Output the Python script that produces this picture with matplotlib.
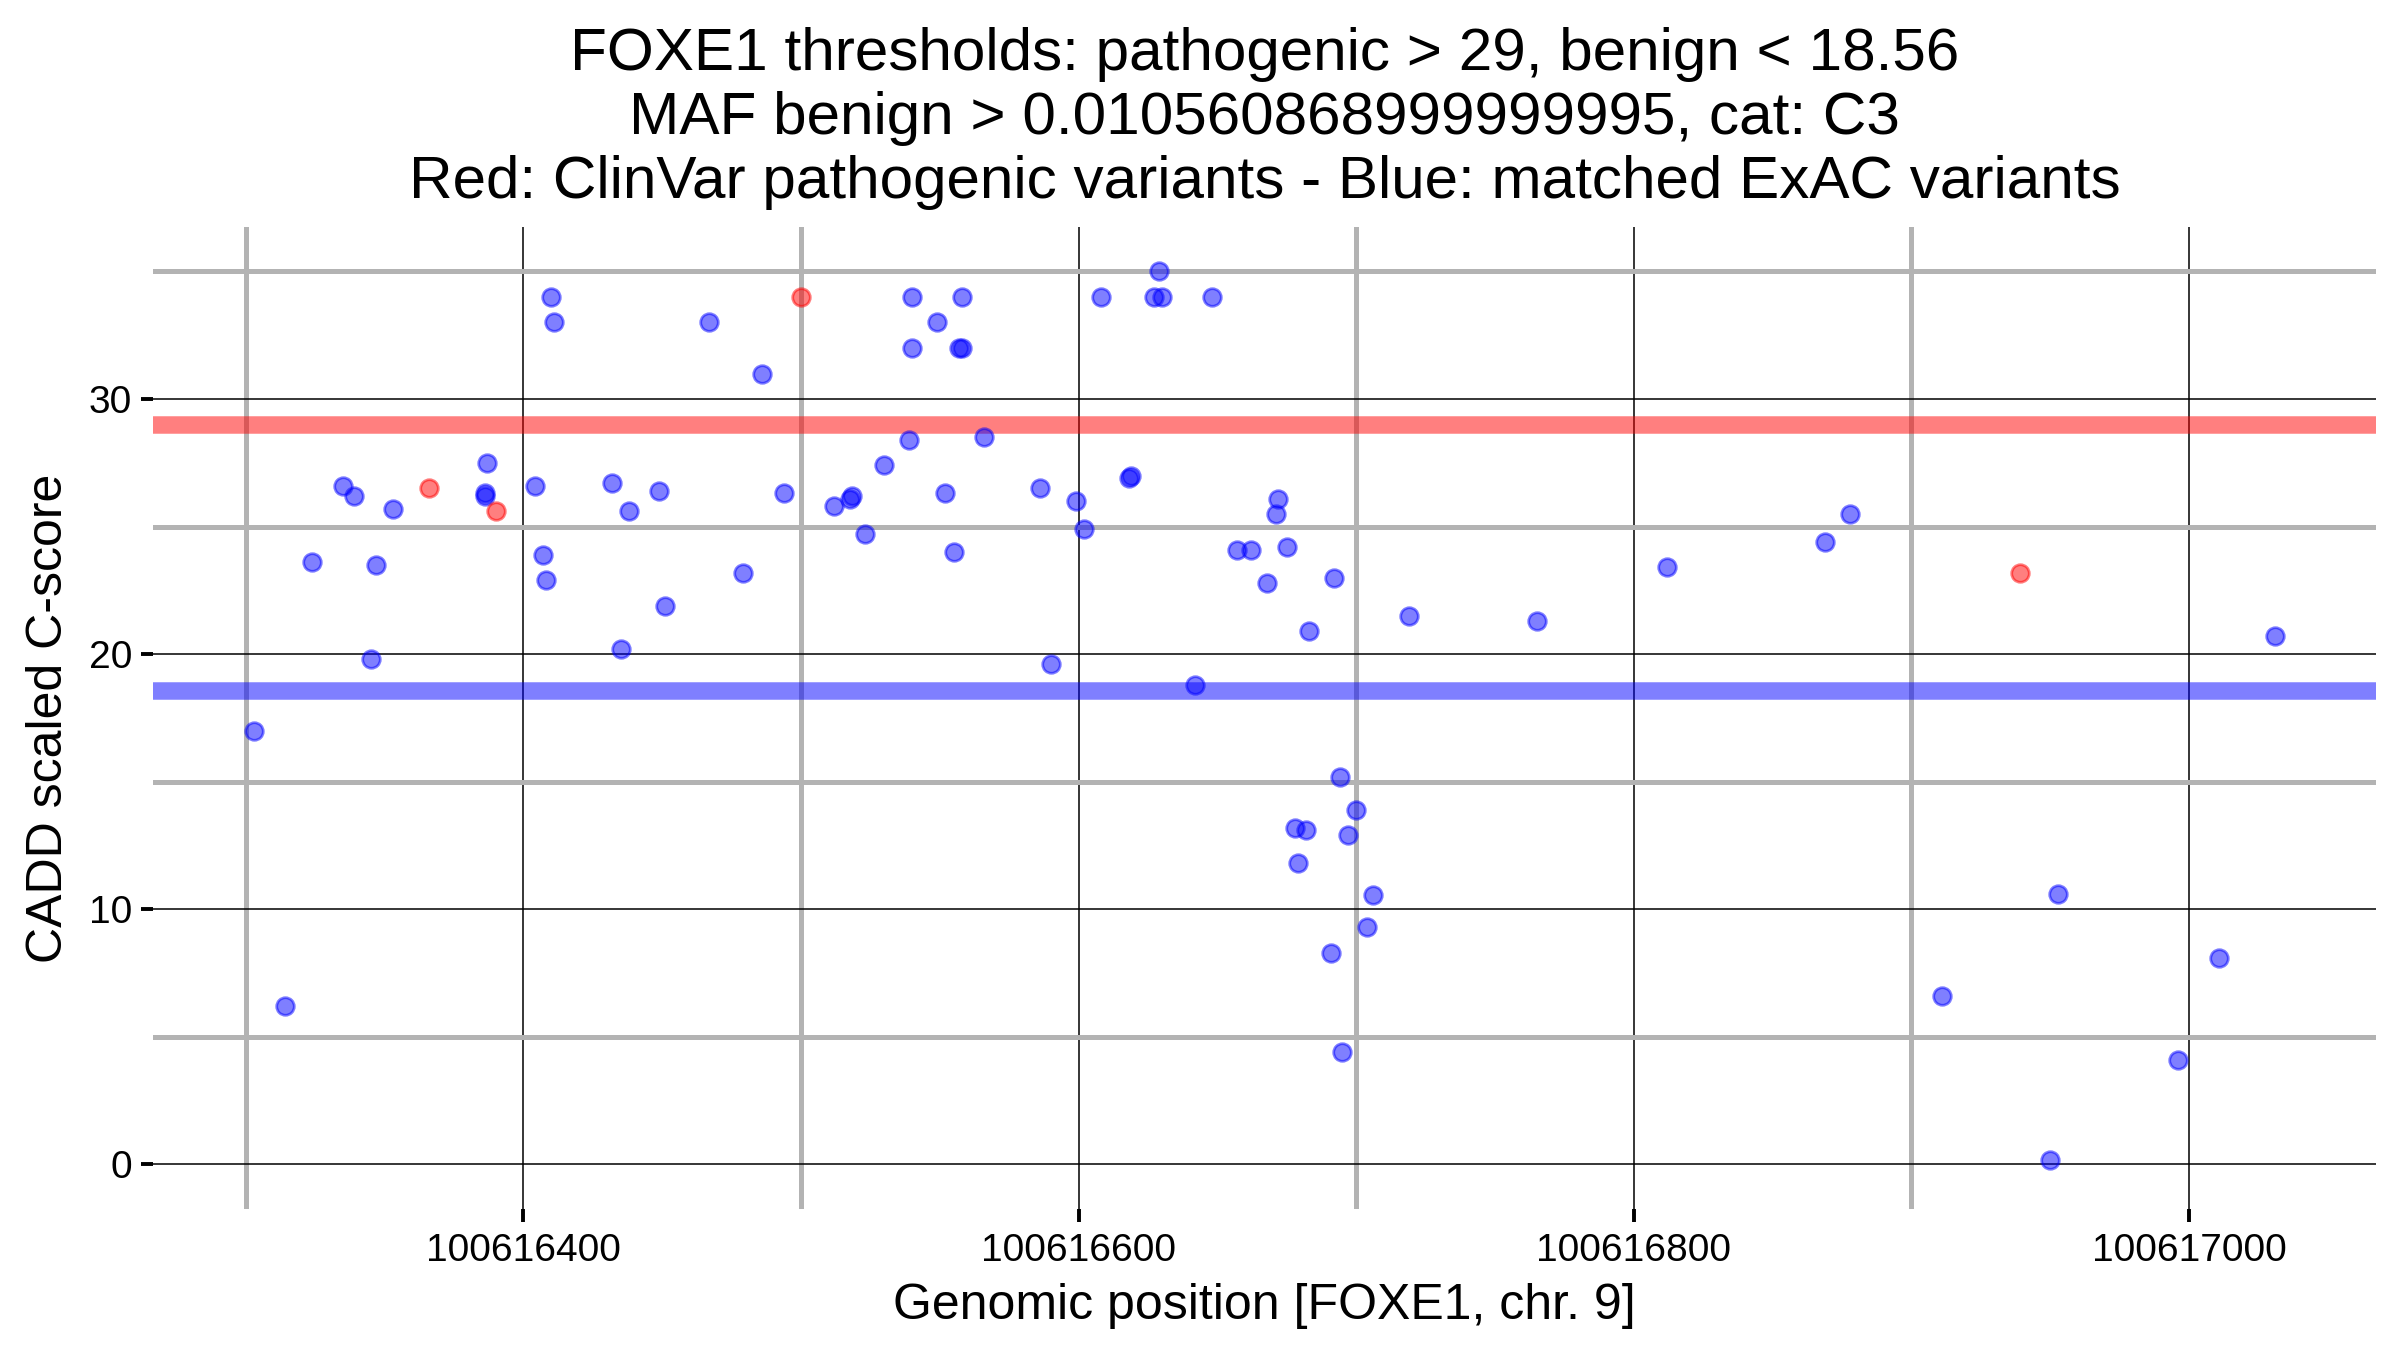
import matplotlib
matplotlib.use("Agg")
import matplotlib.pyplot as plt
from matplotlib.ticker import MultipleLocator, FixedLocator
import numpy as np

plt.rcParams['font.family'] = ['Liberation Sans', 'DejaVu Sans']

# ExAC (blue) variants: position offset from 100616000, CADD score
blue_pos = [303, 314, 324, 335, 339, 345, 347, 353, 387, 386, 386, 404, 407, 408,
            410, 411, 432, 435, 438, 449, 451, 467, 479, 486, 494, 512, 517.5, 518.5,
            523, 530, 539, 540, 540, 549, 552, 555, 557, 558, 558, 566, 586, 590,
            599, 602, 608, 618, 619, 627, 629, 630, 642, 648, 657, 662, 668, 671,
            672, 675, 678, 679, 682, 683, 691, 692, 694, 695, 697, 700, 704, 706,
            719, 765, 812, 869, 878, 911, 950, 953, 996, 1011, 1031]
blue_score = [17.0, 6.2, 23.6, 26.6, 26.2, 19.8, 23.5, 25.7, 27.5, 26.3, 26.2, 26.6, 23.9, 22.9,
              34.0, 33.0, 26.7, 20.2, 25.6, 26.4, 21.9, 33.0, 23.2, 31.0, 26.3, 25.8, 26.1, 26.2,
              24.7, 27.4, 28.4, 34.0, 32.0, 33.0, 26.3, 24.0, 32.0, 32.0, 34.0, 28.5, 26.5, 19.6,
              26.0, 24.9, 34.0, 26.9, 27.0, 34.0, 35.0, 34.0, 18.8, 34.0, 24.1, 24.1, 22.8, 25.5,
              26.1, 24.2, 13.2, 11.8, 13.1, 20.9, 8.3, 23.0, 15.2, 4.4, 12.9, 13.9, 9.3, 10.55,
              21.5, 21.3, 23.4, 24.4, 25.5, 6.6, 0.17, 10.6, 4.1, 8.1, 20.7]
# ClinVar pathogenic (red) variants
red_pos = [366, 390, 500, 939]
red_score = [26.5, 25.6, 34.0, 23.2]

BASE = 100616000
pathogenic_thr = 29
benign_thr = 18.56
title = ("FOXE1 thresholds: pathogenic > 29, benign < 18.56\n"
         "MAF benign > 0.010560868999999995, cat: C3\n"
         "Red: ClinVar pathogenic variants - Blue: matched ExAC variants")

bx = np.array(blue_pos) + BASE
rx = np.array(red_pos) + BASE

fig = plt.figure(figsize=(12, 6.75), dpi=200)
ax = fig.add_axes([0.0638, 0.1044, 0.9262, 0.7276])

allx = np.concatenate([bx, rx])
xr = allx.max() - allx.min()
ax.set_xlim(allx.min() - 0.05 * xr, allx.max() + 0.05 * xr)
yr = 35 - 0
ax.set_ylim(0 - 0.05 * yr, 35 + 0.05 * yr)

for s in ax.spines.values():
    s.set_visible(False)

ax.xaxis.set_major_locator(MultipleLocator(200))
ax.xaxis.set_minor_locator(FixedLocator([100616300, 100616500, 100616700, 100616900]))
ax.yaxis.set_major_locator(MultipleLocator(10))
ax.yaxis.set_minor_locator(FixedLocator([5, 15, 25, 35]))
ax.ticklabel_format(useOffset=False, style='plain', axis='x')

ax.grid(which='minor', color='#B3B3B3', linewidth=1.8, zorder=0)
ax.grid(which='major', color='black', linewidth=0.55, zorder=0.5)
ax.set_axisbelow(True)
ax.tick_params(which='minor', length=0)
ax.tick_params(which='major', length=4.5, width=1.4, color='black', labelsize=14, pad=3)
ax.tick_params(axis='x', which='major', pad=4)

ax.axhline(pathogenic_thr, color='red', alpha=0.5, linewidth=6.3, zorder=2)
ax.axhline(benign_thr, color='blue', alpha=0.5, linewidth=6.3, zorder=2)

ax.scatter(bx, blue_score, s=40, facecolor=(0, 0, 1, 0.5), edgecolor=(0, 0, 1, 0.5),
           linewidth=1.0, zorder=3)
ax.scatter(rx, red_score, s=40, facecolor=(1, 0, 0, 0.5), edgecolor=(1, 0, 0, 0.5),
           linewidth=1.0, zorder=3)

ax.set_xlabel("Genomic position [FOXE1, chr. 9]", fontsize=18, labelpad=5)
ax.set_ylabel("CADD scaled C-score", fontsize=18, labelpad=6)
ax.set_title(title, fontsize=21.7, linespacing=1.2, pad=10.5)

fig.savefig("out.png", dpi=200)
